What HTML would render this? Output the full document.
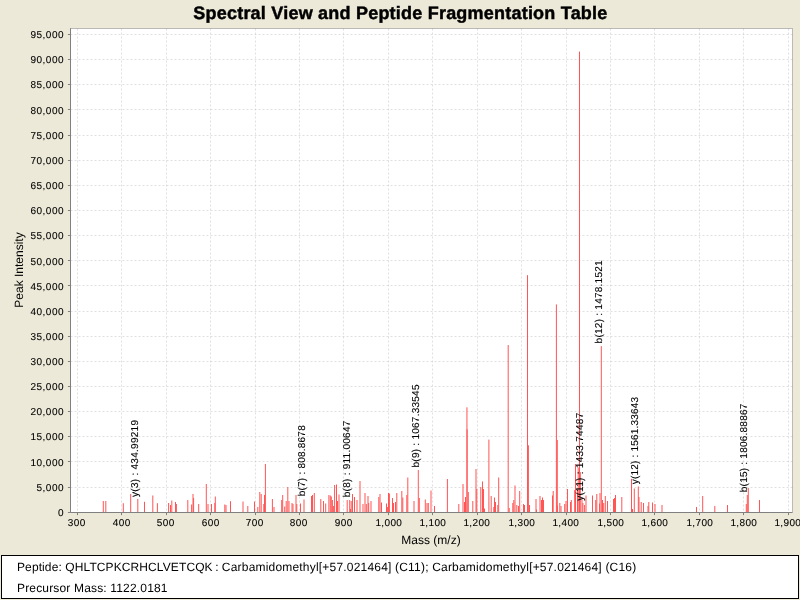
<!DOCTYPE html>
<html><head><meta charset="utf-8"><title>Spectral View and Peptide Fragmentation Table</title>
<style>
html,body{margin:0;padding:0;width:800px;height:600px;overflow:hidden;background:#ECE9D8;}
svg{will-change:transform;position:absolute;left:0;top:0;display:block;}
text{font-family:"Liberation Sans",sans-serif;fill:#000;text-rendering:geometricPrecision;}
.t10{font-size:10px;stroke:#000;stroke-width:0.1px;}
.t12{font-size:12px;}
.grid line{stroke:#C0C0C0;stroke-width:0.5;stroke-dasharray:2 2;}
.ticks line{stroke:#808080;stroke-width:1;}
.peaks line{stroke:rgb(255,85,85);stroke-width:1;}
</style></head><body>
<svg width="800" height="600" viewBox="0 0 800 600">
<rect x="0" y="0" width="800" height="600" fill="#ECE9D8"/>
<text x="400.3" y="19" text-anchor="middle" style="font-size:18px;font-weight:bold;stroke:#000;stroke-width:0.45px" textLength="414" lengthAdjust="spacing">Spectral View and Peptide Fragmentation Table</text>
<rect x="70.5" y="28.5" width="722" height="484" fill="#FFFFFF"/>
<g class="grid">
<line x1="77.5" y1="28.5" x2="77.5" y2="512.5"/>
<line x1="121.5" y1="28.5" x2="121.5" y2="512.5"/>
<line x1="166.5" y1="28.5" x2="166.5" y2="512.5"/>
<line x1="210.5" y1="28.5" x2="210.5" y2="512.5"/>
<line x1="255.5" y1="28.5" x2="255.5" y2="512.5"/>
<line x1="299.5" y1="28.5" x2="299.5" y2="512.5"/>
<line x1="343.5" y1="28.5" x2="343.5" y2="512.5"/>
<line x1="388.5" y1="28.5" x2="388.5" y2="512.5"/>
<line x1="432.5" y1="28.5" x2="432.5" y2="512.5"/>
<line x1="477.5" y1="28.5" x2="477.5" y2="512.5"/>
<line x1="521.5" y1="28.5" x2="521.5" y2="512.5"/>
<line x1="566.5" y1="28.5" x2="566.5" y2="512.5"/>
<line x1="610.5" y1="28.5" x2="610.5" y2="512.5"/>
<line x1="654.5" y1="28.5" x2="654.5" y2="512.5"/>
<line x1="699.5" y1="28.5" x2="699.5" y2="512.5"/>
<line x1="743.5" y1="28.5" x2="743.5" y2="512.5"/>
<line x1="788.5" y1="28.5" x2="788.5" y2="512.5"/>
<line x1="70.5" y1="487.5" x2="792.5" y2="487.5"/>
<line x1="70.5" y1="461.5" x2="792.5" y2="461.5"/>
<line x1="70.5" y1="436.5" x2="792.5" y2="436.5"/>
<line x1="70.5" y1="411.5" x2="792.5" y2="411.5"/>
<line x1="70.5" y1="386.5" x2="792.5" y2="386.5"/>
<line x1="70.5" y1="361.5" x2="792.5" y2="361.5"/>
<line x1="70.5" y1="336.5" x2="792.5" y2="336.5"/>
<line x1="70.5" y1="311.5" x2="792.5" y2="311.5"/>
<line x1="70.5" y1="285.5" x2="792.5" y2="285.5"/>
<line x1="70.5" y1="260.5" x2="792.5" y2="260.5"/>
<line x1="70.5" y1="235.5" x2="792.5" y2="235.5"/>
<line x1="70.5" y1="210.5" x2="792.5" y2="210.5"/>
<line x1="70.5" y1="185.5" x2="792.5" y2="185.5"/>
<line x1="70.5" y1="160.5" x2="792.5" y2="160.5"/>
<line x1="70.5" y1="135.5" x2="792.5" y2="135.5"/>
<line x1="70.5" y1="109.5" x2="792.5" y2="109.5"/>
<line x1="70.5" y1="84.5" x2="792.5" y2="84.5"/>
<line x1="70.5" y1="59.5" x2="792.5" y2="59.5"/>
<line x1="70.5" y1="34.5" x2="792.5" y2="34.5"/>
</g>
<g class="peaks">
<line x1="103.3" y1="501" x2="103.3" y2="512"/>
<line x1="105.8" y1="501" x2="105.8" y2="512"/>
<line x1="123.3" y1="503.2" x2="123.3" y2="512"/>
<line x1="130.7" y1="494" x2="130.7" y2="512"/>
<line x1="137.8" y1="499" x2="137.8" y2="512"/>
<line x1="144.5" y1="501.8" x2="144.5" y2="512"/>
<line x1="152.8" y1="495.5" x2="152.8" y2="512"/>
<line x1="157.4" y1="503.2" x2="157.4" y2="512"/>
<line x1="168.6" y1="503" x2="168.6" y2="512"/>
<line x1="170.5" y1="505" x2="170.5" y2="512"/>
<line x1="171.8" y1="500.5" x2="171.8" y2="512"/>
<line x1="175.5" y1="502" x2="175.5" y2="512"/>
<line x1="176.4" y1="504" x2="176.4" y2="512"/>
<line x1="187.8" y1="500" x2="187.8" y2="512"/>
<line x1="191.6" y1="504.5" x2="191.6" y2="512"/>
<line x1="193" y1="494" x2="193" y2="512"/>
<line x1="193.6" y1="498" x2="193.6" y2="512"/>
<line x1="198.7" y1="504" x2="198.7" y2="512"/>
<line x1="206.3" y1="484" x2="206.3" y2="512"/>
<line x1="208" y1="504" x2="208" y2="512"/>
<line x1="211.5" y1="504" x2="211.5" y2="512"/>
<line x1="214.8" y1="503" x2="214.8" y2="512"/>
<line x1="215.3" y1="496.5" x2="215.3" y2="512"/>
<line x1="224.8" y1="504.5" x2="224.8" y2="512"/>
<line x1="226" y1="505" x2="226" y2="512"/>
<line x1="230.5" y1="501.2" x2="230.5" y2="512"/>
<line x1="243" y1="501.5" x2="243" y2="512"/>
<line x1="247.8" y1="506" x2="247.8" y2="512"/>
<line x1="254.5" y1="501.5" x2="254.5" y2="512"/>
<line x1="257.8" y1="507" x2="257.8" y2="512"/>
<line x1="259.8" y1="492" x2="259.8" y2="512"/>
<line x1="261.2" y1="494" x2="261.2" y2="512"/>
<line x1="263.8" y1="504" x2="263.8" y2="512"/>
<line x1="264.5" y1="495" x2="264.5" y2="512"/>
<line x1="265.4" y1="464" x2="265.4" y2="512"/>
<line x1="272.4" y1="499" x2="272.4" y2="512"/>
<line x1="274" y1="507" x2="274" y2="512"/>
<line x1="281.7" y1="500" x2="281.7" y2="512"/>
<line x1="282.7" y1="495" x2="282.7" y2="512"/>
<line x1="284.7" y1="506.5" x2="284.7" y2="512"/>
<line x1="286.2" y1="501" x2="286.2" y2="512"/>
<line x1="287.8" y1="487" x2="287.8" y2="512"/>
<line x1="289" y1="501" x2="289" y2="512"/>
<line x1="292" y1="503" x2="292" y2="512"/>
<line x1="293" y1="504" x2="293" y2="512"/>
<line x1="296" y1="495" x2="296" y2="512"/>
<line x1="296.8" y1="504" x2="296.8" y2="512"/>
<line x1="300.5" y1="503.5" x2="300.5" y2="512"/>
<line x1="304" y1="499.5" x2="304" y2="512"/>
<line x1="311.5" y1="496" x2="311.5" y2="512"/>
<line x1="312.5" y1="495" x2="312.5" y2="512"/>
<line x1="314.3" y1="493" x2="314.3" y2="512"/>
<line x1="320.8" y1="499" x2="320.8" y2="512"/>
<line x1="323.5" y1="501" x2="323.5" y2="512"/>
<line x1="325.7" y1="503.5" x2="325.7" y2="512"/>
<line x1="328.9" y1="495" x2="328.9" y2="512"/>
<line x1="330.3" y1="495.5" x2="330.3" y2="512"/>
<line x1="331.3" y1="496.5" x2="331.3" y2="512"/>
<line x1="332.4" y1="500" x2="332.4" y2="512"/>
<line x1="333.4" y1="506" x2="333.4" y2="512"/>
<line x1="334.6" y1="485" x2="334.6" y2="512"/>
<line x1="336.5" y1="484.5" x2="336.5" y2="512"/>
<line x1="337.5" y1="501" x2="337.5" y2="512"/>
<line x1="339" y1="494.5" x2="339" y2="512"/>
<line x1="347.2" y1="500" x2="347.2" y2="512"/>
<line x1="349.7" y1="500" x2="349.7" y2="512"/>
<line x1="350.5" y1="509" x2="350.5" y2="512"/>
<line x1="351.2" y1="501" x2="351.2" y2="512"/>
<line x1="352.5" y1="494" x2="352.5" y2="512"/>
<line x1="354.5" y1="497" x2="354.5" y2="512"/>
<line x1="357" y1="500" x2="357" y2="512"/>
<line x1="360" y1="481" x2="360" y2="512"/>
<line x1="363" y1="504" x2="363" y2="512"/>
<line x1="365" y1="493" x2="365" y2="512"/>
<line x1="366.3" y1="504" x2="366.3" y2="512"/>
<line x1="368" y1="496" x2="368" y2="512"/>
<line x1="368.7" y1="503" x2="368.7" y2="512"/>
<line x1="371" y1="501" x2="371" y2="512"/>
<line x1="378.8" y1="497" x2="378.8" y2="512"/>
<line x1="380" y1="494" x2="380" y2="512"/>
<line x1="381.5" y1="502.5" x2="381.5" y2="512"/>
<line x1="386.5" y1="503.5" x2="386.5" y2="512"/>
<line x1="387.4" y1="507" x2="387.4" y2="512"/>
<line x1="388.5" y1="493" x2="388.5" y2="512"/>
<line x1="389.4" y1="493.5" x2="389.4" y2="512"/>
<line x1="392.5" y1="498" x2="392.5" y2="512"/>
<line x1="393.5" y1="503" x2="393.5" y2="512"/>
<line x1="395.5" y1="502" x2="395.5" y2="512"/>
<line x1="396.8" y1="493" x2="396.8" y2="512"/>
<line x1="401.8" y1="491" x2="401.8" y2="512"/>
<line x1="402.8" y1="497.5" x2="402.8" y2="512"/>
<line x1="406.8" y1="495" x2="406.8" y2="512"/>
<line x1="407.8" y1="477.5" x2="407.8" y2="512"/>
<line x1="414" y1="501" x2="414" y2="512"/>
<line x1="418.3" y1="470" x2="418.3" y2="512"/>
<line x1="419.3" y1="498" x2="419.3" y2="512"/>
<line x1="425.3" y1="499.5" x2="425.3" y2="512"/>
<line x1="427" y1="503" x2="427" y2="512"/>
<line x1="428.3" y1="503" x2="428.3" y2="512"/>
<line x1="431" y1="490.5" x2="431" y2="512"/>
<line x1="434.5" y1="506" x2="434.5" y2="512"/>
<line x1="447.4" y1="479" x2="447.4" y2="512"/>
<line x1="458.8" y1="504" x2="458.8" y2="512"/>
<line x1="463" y1="484" x2="463" y2="512"/>
<line x1="464.5" y1="502" x2="464.5" y2="512"/>
<line x1="465.5" y1="497" x2="465.5" y2="512"/>
<line x1="466.95" y1="407.3" x2="466.95" y2="512"/>
<line x1="467.1" y1="429.3" x2="467.1" y2="512"/>
<line x1="468.3" y1="492" x2="468.3" y2="512"/>
<line x1="472.8" y1="501" x2="472.8" y2="512"/>
<line x1="476" y1="469" x2="476" y2="512"/>
<line x1="476.8" y1="489" x2="476.8" y2="512"/>
<line x1="480.8" y1="487" x2="480.8" y2="512"/>
<line x1="482.5" y1="481.5" x2="482.5" y2="512"/>
<line x1="483.5" y1="489" x2="483.5" y2="512"/>
<line x1="484.5" y1="508.5" x2="484.5" y2="512"/>
<line x1="488.9" y1="439.6" x2="488.9" y2="512"/>
<line x1="491.2" y1="496" x2="491.2" y2="512"/>
<line x1="493.8" y1="507" x2="493.8" y2="512"/>
<line x1="494.5" y1="497.5" x2="494.5" y2="512"/>
<line x1="495.5" y1="502" x2="495.5" y2="512"/>
<line x1="497.8" y1="505" x2="497.8" y2="512"/>
<line x1="498.7" y1="477.5" x2="498.7" y2="512"/>
<line x1="508.2" y1="345" x2="508.2" y2="512"/>
<line x1="509.2" y1="508" x2="509.2" y2="512"/>
<line x1="512.8" y1="503" x2="512.8" y2="512"/>
<line x1="513.8" y1="500" x2="513.8" y2="512"/>
<line x1="515" y1="485.5" x2="515" y2="512"/>
<line x1="516.8" y1="505" x2="516.8" y2="512"/>
<line x1="518.5" y1="506" x2="518.5" y2="512"/>
<line x1="519.7" y1="491" x2="519.7" y2="512"/>
<line x1="523.5" y1="504" x2="523.5" y2="512"/>
<line x1="524.5" y1="505" x2="524.5" y2="512"/>
<line x1="527.5" y1="275.2" x2="527.5" y2="512"/>
<line x1="528.4" y1="445.3" x2="528.4" y2="512"/>
<line x1="529.5" y1="505" x2="529.5" y2="512"/>
<line x1="536" y1="499" x2="536" y2="512"/>
<line x1="536.5" y1="509.5" x2="536.5" y2="512"/>
<line x1="540" y1="496" x2="540" y2="512"/>
<line x1="541.5" y1="500" x2="541.5" y2="512"/>
<line x1="542.5" y1="497.5" x2="542.5" y2="512"/>
<line x1="543.5" y1="500" x2="543.5" y2="512"/>
<line x1="552.5" y1="495.5" x2="552.5" y2="512"/>
<line x1="553.2" y1="491" x2="553.2" y2="512"/>
<line x1="556.4" y1="304.4" x2="556.4" y2="512"/>
<line x1="557.3" y1="440" x2="557.3" y2="512"/>
<line x1="557.4" y1="505.5" x2="557.4" y2="512"/>
<line x1="559.8" y1="503" x2="559.8" y2="512"/>
<line x1="561" y1="506" x2="561" y2="512"/>
<line x1="564.7" y1="504" x2="564.7" y2="512"/>
<line x1="566" y1="501" x2="566" y2="512"/>
<line x1="567.5" y1="489" x2="567.5" y2="512"/>
<line x1="570.5" y1="502" x2="570.5" y2="512"/>
<line x1="571.3" y1="500" x2="571.3" y2="512"/>
<line x1="574.7" y1="490" x2="574.7" y2="512"/>
<line x1="575.5" y1="464" x2="575.5" y2="512"/>
<line x1="577.5" y1="489.5" x2="577.5" y2="512"/>
<line x1="578.2" y1="467.5" x2="578.2" y2="512"/>
<line x1="579.5" y1="51.6" x2="579.5" y2="512"/>
<line x1="580.3" y1="472" x2="580.3" y2="512"/>
<line x1="582" y1="499.5" x2="582" y2="512"/>
<line x1="582.9" y1="503" x2="582.9" y2="512"/>
<line x1="584.6" y1="505" x2="584.6" y2="512"/>
<line x1="586" y1="495.5" x2="586" y2="512"/>
<line x1="592.5" y1="495.5" x2="592.5" y2="512"/>
<line x1="595.7" y1="500" x2="595.7" y2="512"/>
<line x1="596.8" y1="494" x2="596.8" y2="512"/>
<line x1="599.5" y1="503.5" x2="599.5" y2="512"/>
<line x1="600" y1="493" x2="600" y2="512"/>
<line x1="601.3" y1="346.1" x2="601.3" y2="512"/>
<line x1="602.5" y1="500" x2="602.5" y2="512"/>
<line x1="603.7" y1="503" x2="603.7" y2="512"/>
<line x1="605.3" y1="496" x2="605.3" y2="512"/>
<line x1="607.5" y1="501" x2="607.5" y2="512"/>
<line x1="613.5" y1="499" x2="613.5" y2="512"/>
<line x1="614.5" y1="498" x2="614.5" y2="512"/>
<line x1="615.5" y1="495" x2="615.5" y2="512"/>
<line x1="621.8" y1="497" x2="621.8" y2="512"/>
<line x1="631.5" y1="478.8" x2="631.5" y2="512"/>
<line x1="632.5" y1="509" x2="632.5" y2="512"/>
<line x1="634.3" y1="488.5" x2="634.3" y2="512"/>
<line x1="638.3" y1="486.5" x2="638.3" y2="512"/>
<line x1="639" y1="497" x2="639" y2="512"/>
<line x1="641.2" y1="502" x2="641.2" y2="512"/>
<line x1="643.5" y1="503" x2="643.5" y2="512"/>
<line x1="648" y1="506" x2="648" y2="512"/>
<line x1="648.8" y1="502" x2="648.8" y2="512"/>
<line x1="652.5" y1="502.5" x2="652.5" y2="512"/>
<line x1="655" y1="504" x2="655" y2="512"/>
<line x1="662" y1="505" x2="662" y2="512"/>
<line x1="696.5" y1="507" x2="696.5" y2="512"/>
<line x1="702.7" y1="496" x2="702.7" y2="512"/>
<line x1="714.8" y1="506" x2="714.8" y2="512"/>
<line x1="727.5" y1="505" x2="727.5" y2="512"/>
<line x1="746.3" y1="504" x2="746.3" y2="512"/>
<line x1="747.3" y1="495" x2="747.3" y2="512"/>
<line x1="748.3" y1="488" x2="748.3" y2="512"/>
<line x1="759.5" y1="500" x2="759.5" y2="512"/>
</g>
<rect x="70.5" y="28.5" width="722" height="484" fill="none" stroke="#808080" stroke-width="0.5"/>
<g class="ticks">
<line x1="70.5" y1="28.5" x2="70.5" y2="512.5"/>
<line x1="70.5" y1="512.5" x2="792.5" y2="512.5"/>
<line x1="77.5" y1="512.5" x2="77.5" y2="515.1"/>
<line x1="121.5" y1="512.5" x2="121.5" y2="515.1"/>
<line x1="166.5" y1="512.5" x2="166.5" y2="515.1"/>
<line x1="210.5" y1="512.5" x2="210.5" y2="515.1"/>
<line x1="255.5" y1="512.5" x2="255.5" y2="515.1"/>
<line x1="299.5" y1="512.5" x2="299.5" y2="515.1"/>
<line x1="343.5" y1="512.5" x2="343.5" y2="515.1"/>
<line x1="388.5" y1="512.5" x2="388.5" y2="515.1"/>
<line x1="432.5" y1="512.5" x2="432.5" y2="515.1"/>
<line x1="477.5" y1="512.5" x2="477.5" y2="515.1"/>
<line x1="521.5" y1="512.5" x2="521.5" y2="515.1"/>
<line x1="566.5" y1="512.5" x2="566.5" y2="515.1"/>
<line x1="610.5" y1="512.5" x2="610.5" y2="515.1"/>
<line x1="654.5" y1="512.5" x2="654.5" y2="515.1"/>
<line x1="699.5" y1="512.5" x2="699.5" y2="515.1"/>
<line x1="743.5" y1="512.5" x2="743.5" y2="515.1"/>
<line x1="788.5" y1="512.5" x2="788.5" y2="515.1"/>
<line x1="67.9" y1="512.5" x2="70.5" y2="512.5"/>
<line x1="67.9" y1="487.5" x2="70.5" y2="487.5"/>
<line x1="67.9" y1="461.5" x2="70.5" y2="461.5"/>
<line x1="67.9" y1="436.5" x2="70.5" y2="436.5"/>
<line x1="67.9" y1="411.5" x2="70.5" y2="411.5"/>
<line x1="67.9" y1="386.5" x2="70.5" y2="386.5"/>
<line x1="67.9" y1="361.5" x2="70.5" y2="361.5"/>
<line x1="67.9" y1="336.5" x2="70.5" y2="336.5"/>
<line x1="67.9" y1="311.5" x2="70.5" y2="311.5"/>
<line x1="67.9" y1="285.5" x2="70.5" y2="285.5"/>
<line x1="67.9" y1="260.5" x2="70.5" y2="260.5"/>
<line x1="67.9" y1="235.5" x2="70.5" y2="235.5"/>
<line x1="67.9" y1="210.5" x2="70.5" y2="210.5"/>
<line x1="67.9" y1="185.5" x2="70.5" y2="185.5"/>
<line x1="67.9" y1="160.5" x2="70.5" y2="160.5"/>
<line x1="67.9" y1="135.5" x2="70.5" y2="135.5"/>
<line x1="67.9" y1="109.5" x2="70.5" y2="109.5"/>
<line x1="67.9" y1="84.5" x2="70.5" y2="84.5"/>
<line x1="67.9" y1="59.5" x2="70.5" y2="59.5"/>
<line x1="67.9" y1="34.5" x2="70.5" y2="34.5"/>
</g>
<g class="t10">
<text x="63.5" y="516" text-anchor="end" textLength="6">0</text>
<text x="63.5" y="491" text-anchor="end" textLength="27">5,000</text>
<text x="63.5" y="466" text-anchor="end" textLength="33">10,000</text>
<text x="63.5" y="440" text-anchor="end" textLength="33">15,000</text>
<text x="63.5" y="415" text-anchor="end" textLength="33">20,000</text>
<text x="63.5" y="390" text-anchor="end" textLength="33">25,000</text>
<text x="63.5" y="365" text-anchor="end" textLength="33">30,000</text>
<text x="63.5" y="340" text-anchor="end" textLength="33">35,000</text>
<text x="63.5" y="315" text-anchor="end" textLength="33">40,000</text>
<text x="63.5" y="290" text-anchor="end" textLength="33">45,000</text>
<text x="63.5" y="265" text-anchor="end" textLength="33">50,000</text>
<text x="63.5" y="239" text-anchor="end" textLength="33">55,000</text>
<text x="63.5" y="214" text-anchor="end" textLength="33">60,000</text>
<text x="63.5" y="189" text-anchor="end" textLength="33">65,000</text>
<text x="63.5" y="164" text-anchor="end" textLength="33">70,000</text>
<text x="63.5" y="139" text-anchor="end" textLength="33">75,000</text>
<text x="63.5" y="114" text-anchor="end" textLength="33">80,000</text>
<text x="63.5" y="88" text-anchor="end" textLength="33">85,000</text>
<text x="63.5" y="63" text-anchor="end" textLength="33">90,000</text>
<text x="63.5" y="38" text-anchor="end" textLength="33">95,000</text>
<text x="67.8" y="526" textLength="17.5">300</text>
<text x="112.8" y="526" textLength="17.5">400</text>
<text x="156.8" y="526" textLength="17.5">500</text>
<text x="201.8" y="526" textLength="17.5">600</text>
<text x="245.8" y="526" textLength="17.5">700</text>
<text x="289.8" y="526" textLength="17.5">800</text>
<text x="334.8" y="526" textLength="17.5">900</text>
<text x="375.4" y="526" textLength="26.5">1,000</text>
<text x="419.4" y="526" textLength="26.5">1,100</text>
<text x="463.4" y="526" textLength="26.5">1,200</text>
<text x="508.4" y="526" textLength="26.5">1,300</text>
<text x="552.4" y="526" textLength="26.5">1,400</text>
<text x="597.4" y="526" textLength="26.5">1,500</text>
<text x="641.4" y="526" textLength="26.5">1,600</text>
<text x="686.4" y="526" textLength="26.5">1,700</text>
<text x="730.4" y="526" textLength="26.5">1,800</text>
<text x="774.4" y="526" textLength="26.5">1,900</text>
</g>
<text class="t12" x="431" y="544" text-anchor="middle">Mass (m/z)</text>
<text class="t12" transform="translate(22.5,270) rotate(-90)" text-anchor="middle">Peak Intensity</text>
<g class="t10">
<text transform="translate(138.1,497) rotate(-90)" textLength="77">y(3) : 434.99219</text>
<text transform="translate(304.6,496.3) rotate(-90)" textLength="71">b(7) : 808.8678</text>
<text transform="translate(349.8,497.2) rotate(-90)" textLength="76.5">b(8) : 911.00647</text>
<text transform="translate(419.3,467.5) rotate(-90)" textLength="83">b(9) : 1067.33545</text>
<text transform="translate(582.6,500.8) rotate(-90)" textLength="88">y(11) : 1433.74487</text>
<text transform="translate(601.6,343.4) rotate(-90)" textLength="83">b(12) : 1478.1521</text>
<text transform="translate(638.3,484.3) rotate(-90)" textLength="87.3">y(12) : 1561.33643</text>
<text transform="translate(747.1,492.2) rotate(-90)" textLength="88.5">b(15) : 1806.88867</text>
</g>
<rect x="1.5" y="555.5" width="797" height="43" fill="#FFFFFF" stroke="#000000" stroke-width="1"/>
<text class="t12" x="17" y="571" textLength="195.6">Peptide: QHLTCPKCRHCLVETCQK</text>
<text class="t12" x="215.2" y="571">:</text>
<text class="t12" x="221.85" y="571" textLength="414.35">Carbamidomethyl[+57.021464] (C11); Carbamidomethyl[+57.021464] (C16)</text>
<text class="t12" x="17" y="592" textLength="150.5">Precursor Mass: 1122.0181</text>
</svg></body></html>
